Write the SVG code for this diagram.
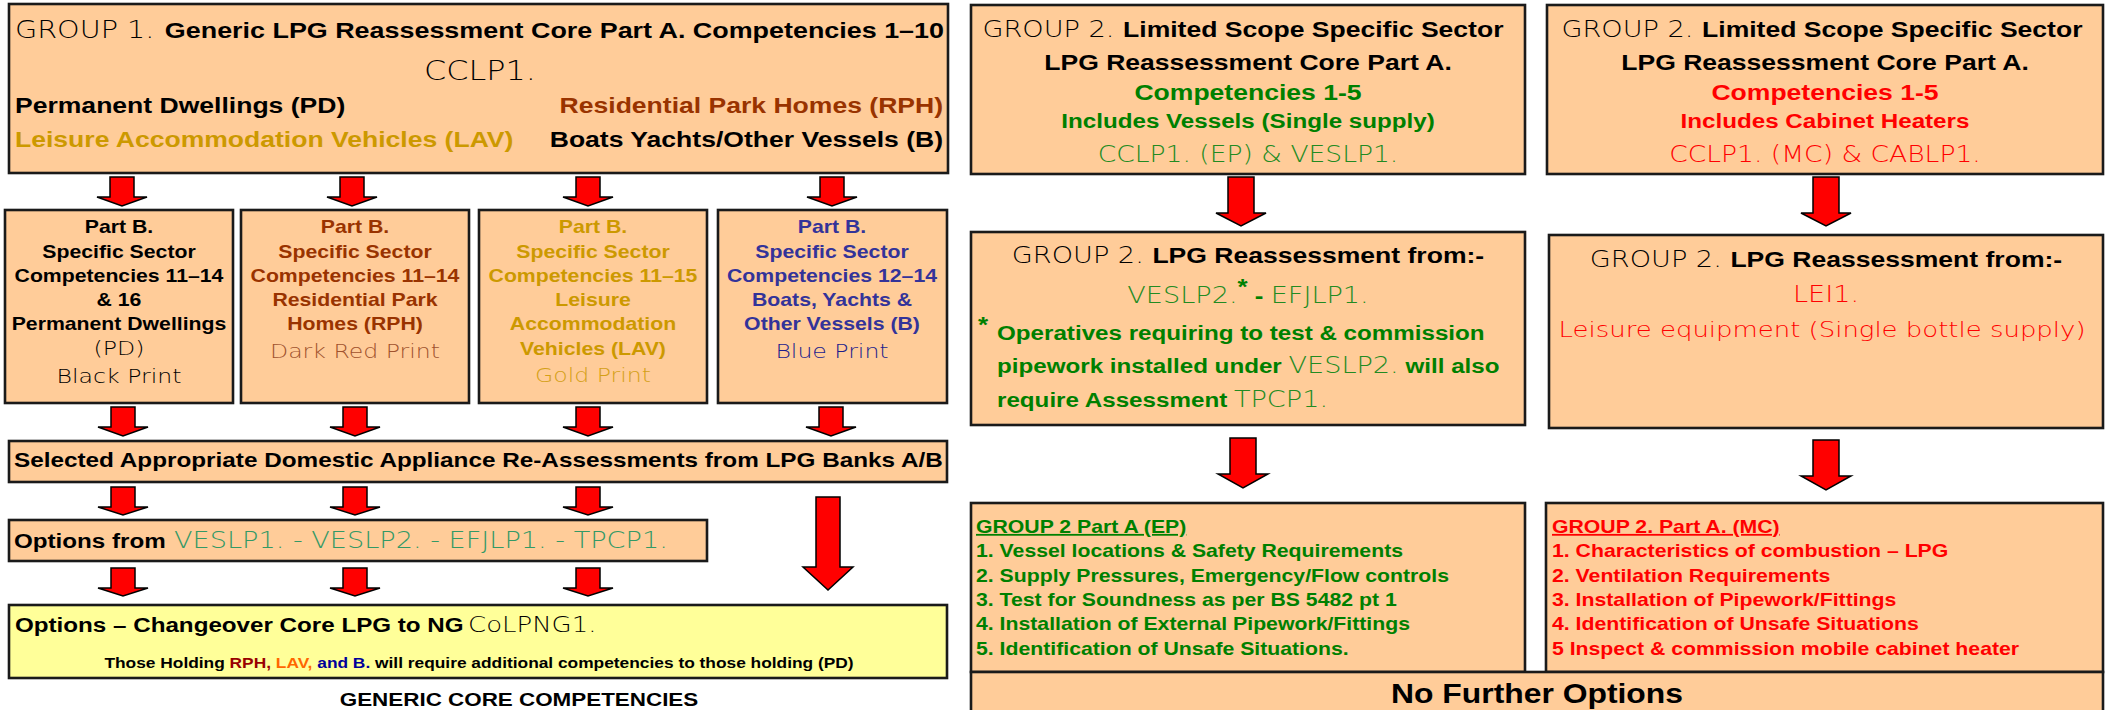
<svg xmlns="http://www.w3.org/2000/svg" width="2105" height="710" viewBox="0 0 2105 710">
<style>
.box{fill:#FFCC99;stroke:#1a1a1a;stroke-width:2.6}
.yel{fill:#FFFF99;stroke:#1a1a1a;stroke-width:2.6}
.b{font-family:"Liberation Sans",Arial,sans-serif;font-weight:700}
.l{font-family:"DejaVu Sans","Liberation Sans",sans-serif;font-weight:200}
.arrow{fill:#FF0000;stroke:#000;stroke-width:1.5;stroke-linejoin:miter}
.m{text-anchor:middle}
.e{text-anchor:end}
.pb{font-size:18px}
.h{font-size:22.5px}
.gr{fill:#008000}
.gr2{fill:#228B22}
.rd{fill:#FF0000}
.br{fill:#993300}
.gd{fill:#CC9900}
.bl{fill:#333399}
</style>
<rect width="2105" height="710" fill="#ffffff"/>

<g id="group1-core">
<rect class="box" x="9" y="4" width="939" height="169"/>
<text transform="matrix(1.18 0 0 1 15 38)"><tspan class="l" font-size="24.3">GROUP 1.</tspan><tspan class="b" font-size="22.8" x="127">Generic LPG Reassessment Core Part A. Competencies 1–10</tspan></text>
<text class="l m" font-size="27" transform="matrix(1.18 0 0 1 480 80)">CCLP1.</text>
<text class="b h" transform="matrix(1.18 0 0 1 15 113)">Permanent Dwellings (PD)</text>
<text class="b h e br" transform="matrix(1.18 0 0 1 943 113)">Residential Park Homes (RPH)</text>
<text class="b h gd" transform="matrix(1.18 0 0 1 15 147)">Leisure Accommodation Vehicles (LAV)</text>
<text class="b h e" transform="matrix(1.18 0 0 1 943 147)">Boats Yachts/Other Vessels (B)</text>
</g>

<g id="partb-pd">
<rect class="box" x="5" y="210" width="228" height="193"/>
<g class="b pb m">
<text transform="matrix(1.18 0 0 1 119 233)">Part B.</text>
<text transform="matrix(1.18 0 0 1 119 257.5)">Specific Sector</text>
<text transform="matrix(1.18 0 0 1 119 281.5)">Competencies 11–14</text>
<text transform="matrix(1.18 0 0 1 119 305.5)">&amp; 16</text>
<text transform="matrix(1.18 0 0 1 119 330)">Permanent Dwellings</text>
</g>
<text class="l m" font-size="20" transform="matrix(1.18 0 0 1 119 355)">(PD)</text>
<text class="l m" font-size="20" transform="matrix(1.18 0 0 1 119 383)">Black Print</text>
</g>

<g id="partb-rph">
<rect class="box" x="241" y="210" width="228" height="193"/>
<g class="b pb m br">
<text transform="matrix(1.18 0 0 1 355 233)">Part B.</text>
<text transform="matrix(1.18 0 0 1 355 257.5)">Specific Sector</text>
<text transform="matrix(1.18 0 0 1 355 281.5)">Competencies 11–14</text>
<text transform="matrix(1.18 0 0 1 355 305.5)">Residential Park</text>
<text transform="matrix(1.18 0 0 1 355 330)">Homes (RPH)</text>
</g>
<text class="l m" font-size="20" fill="#A0522D" transform="matrix(1.18 0 0 1 355 358)">Dark Red Print</text>
</g>

<g id="partb-lav">
<rect class="box" x="479" y="210" width="228" height="193"/>
<g class="b pb m gd">
<text transform="matrix(1.18 0 0 1 593 233)">Part B.</text>
<text transform="matrix(1.18 0 0 1 593 257.5)">Specific Sector</text>
<text transform="matrix(1.18 0 0 1 593 281.5)">Competencies 11–15</text>
<text transform="matrix(1.18 0 0 1 593 305.5)">Leisure</text>
<text transform="matrix(1.18 0 0 1 593 330)">Accommodation</text>
<text transform="matrix(1.18 0 0 1 593 354.5)">Vehicles (LAV)</text>
</g>
<text class="l m" font-size="20" fill="#D4A017" transform="matrix(1.18 0 0 1 593 382)">Gold Print</text>
</g>

<g id="partb-boats">
<rect class="box" x="718" y="210" width="229" height="193"/>
<g class="b pb m bl">
<text transform="matrix(1.18 0 0 1 832 233)">Part B.</text>
<text transform="matrix(1.18 0 0 1 832 257.5)">Specific Sector</text>
<text transform="matrix(1.18 0 0 1 832 281.5)">Competencies 12–14</text>
<text transform="matrix(1.18 0 0 1 832 305.5)">Boats, Yachts &amp;</text>
<text transform="matrix(1.18 0 0 1 832 330)">Other Vessels (B)</text>
</g>
<text class="l m" font-size="20" fill="#1C1C8C" transform="matrix(1.18 0 0 1 832 358)">Blue Print</text>
</g>

<g id="appliance-reassessments">
<rect class="box" x="9" y="441" width="938" height="41"/>
<text class="b" font-size="20.6" transform="matrix(1.18 0 0 1 14 467)">Selected Appropriate Domestic Appliance Re-Assessments from LPG Banks A/B</text>
</g>

<g id="options-from">
<rect class="box" x="9" y="520" width="698" height="41"/>
<text transform="matrix(1.18 0 0 1 14 548)"><tspan class="b" font-size="20.5">Options from </tspan><tspan class="l" font-size="23" fill="#339966" x="135.6">VESLP1. - VESLP2. - EFJLP1. - TPCP1.</tspan></text>
</g>

<g id="changeover-core">
<rect class="yel" x="9" y="605" width="938" height="73"/>
<text transform="matrix(1.18 0 0 1 15 632)"><tspan class="b" font-size="20.5">Options – Changeover Core LPG to NG </tspan><tspan class="l" font-size="22" x="384">CoLPNG1.</tspan></text>
<text class="b m" font-size="14.7" transform="matrix(1.18 0 0 1 479 668)">Those Holding <tspan fill="#990000">RPH,</tspan> <tspan fill="#FF6600">LAV,</tspan> <tspan fill="#000099">and B.</tspan> will require additional competencies to those holding (PD)</text>
</g>

<g id="caption">
<text class="b m" font-size="19" transform="matrix(1.18 0 0 1 519 706)">GENERIC CORE COMPETENCIES</text>
</g>

<g id="group2-ep-core">
<rect class="box" x="971" y="5" width="554" height="169"/>
<text class="m" transform="matrix(1.18 0 0 1 1243 37)"><tspan class="l" font-size="23">GROUP 2. </tspan><tspan class="b h">Limited Scope Specific Sector</tspan></text>
<text class="b h m" transform="matrix(1.18 0 0 1 1248 70)">LPG Reassessment Core Part A.</text>
<text class="b h m gr" transform="matrix(1.18 0 0 1 1248 100)">Competencies 1-5</text>
<text class="b m gr" font-size="20.5" transform="matrix(1.18 0 0 1 1248 128)">Includes Vessels (Single supply)</text>
<text class="l m gr2" font-size="22.5" transform="matrix(1.18 0 0 1 1248 162)">CCLP1. (EP) &amp; VESLP1.</text>
</g>

<g id="group2-mc-core">
<rect class="box" x="1547" y="5" width="556" height="169"/>
<text class="m" transform="matrix(1.18 0 0 1 1822 37)"><tspan class="l" font-size="23">GROUP 2. </tspan><tspan class="b h">Limited Scope Specific Sector</tspan></text>
<text class="b h m" transform="matrix(1.18 0 0 1 1825 70)">LPG Reassessment Core Part A.</text>
<text class="b h m rd" transform="matrix(1.18 0 0 1 1825 100)">Competencies 1-5</text>
<text class="b m rd" font-size="20.5" transform="matrix(1.18 0 0 1 1825 128)">Includes Cabinet Heaters</text>
<text class="l m rd" font-size="22.5" transform="matrix(1.18 0 0 1 1825 162)">CCLP1. (MC) &amp; CABLP1.</text>
</g>

<g id="group2-ep-reassessment">
<rect class="box" x="971" y="232" width="554" height="193"/>
<text class="m" transform="matrix(1.18 0 0 1 1248 263)"><tspan class="l" font-size="23">GROUP 2. </tspan><tspan class="b h">LPG Reassessment from:-</tspan></text>
<text class="m" transform="matrix(1.18 0 0 1 1248 303)"><tspan class="l gr2" font-size="23">VESLP2.</tspan><tspan class="b gr" font-size="22" dy="-9">*</tspan><tspan class="b gr" font-size="22" dy="9"> - </tspan><tspan class="l gr2" font-size="23">EFJLP1.</tspan></text>
<text class="b gr" font-size="22" transform="matrix(1.18 0 0 1 978 332)">*</text>
<text class="b gr" font-size="20.5" transform="matrix(1.18 0 0 1 997 340)">Operatives requiring to test &amp; commission</text>
<text class="b gr" font-size="20.5" transform="matrix(1.18 0 0 1 997 373)">pipework installed under <tspan class="l gr2" font-size="23">VESLP2.</tspan> will also</text>
<text class="b gr" font-size="20.5" transform="matrix(1.18 0 0 1 997 407)">require Assessment <tspan class="l gr2" font-size="23">TPCP1.</tspan></text>
</g>

<g id="group2-mc-reassessment">
<rect class="box" x="1549" y="235" width="554" height="193"/>
<text class="m" transform="matrix(1.18 0 0 1 1826 267)"><tspan class="l" font-size="23">GROUP 2. </tspan><tspan class="b h">LPG Reassessment from:-</tspan></text>
<text class="l m rd" font-size="23" transform="matrix(1.18 0 0 1 1826 302)">LEI1.</text>
<text class="l m rd" font-size="22" transform="matrix(1.18 0 0 1 1822 337)">Leisure equipment (Single bottle supply)</text>
</g>

<g id="group2-ep-parta">
<rect class="box" x="971" y="503" width="554" height="169"/>
<g class="b pb gr">
<text transform="matrix(1.18 0 0 1 976 533)" text-decoration="underline">GROUP 2 Part A (EP)</text>
<text transform="matrix(1.18 0 0 1 976 557)">1. Vessel locations &amp; Safety Requirements</text>
<text transform="matrix(1.18 0 0 1 976 582)">2. Supply Pressures, Emergency/Flow controls</text>
<text transform="matrix(1.18 0 0 1 976 606)">3. Test for Soundness as per BS 5482 pt 1</text>
<text transform="matrix(1.18 0 0 1 976 630)">4. Installation of External Pipework/Fittings</text>
<text transform="matrix(1.18 0 0 1 976 655)">5. Identification of Unsafe Situations.</text>
</g>
</g>

<g id="group2-mc-parta">
<rect class="box" x="1546" y="503" width="557" height="169"/>
<g class="b pb rd">
<text transform="matrix(1.18 0 0 1 1552 533)" text-decoration="underline">GROUP 2. Part A. (MC)</text>
<text transform="matrix(1.18 0 0 1 1552 557)">1. Characteristics of combustion – LPG</text>
<text transform="matrix(1.18 0 0 1 1552 582)">2. Ventilation Requirements</text>
<text transform="matrix(1.18 0 0 1 1552 606)">3. Installation of Pipework/Fittings</text>
<text transform="matrix(1.18 0 0 1 1552 630)">4. Identification of Unsafe Situations</text>
<text transform="matrix(1.18 0 0 1 1552 655)">5 Inspect &amp; commission mobile cabinet heater</text>
</g>
</g>

<g id="no-further-options">
<rect class="box" x="971" y="672" width="1132" height="50"/>
<text class="b m" font-size="27" transform="matrix(1.18 0 0 1 1537 703)">No Further Options</text>
</g>

<g id="connectors">
<path class="arrow" d="M110,177 H134 V197 H147 L122,206 L97,197 H110 Z"/>
<path class="arrow" d="M340,177 H364 V197 H377 L352,206 L327,197 H340 Z"/>
<path class="arrow" d="M576,177 H600 V197 H613 L588,206 L563,197 H576 Z"/>
<path class="arrow" d="M820,177 H844 V197 H857 L832,206 L807,197 H820 Z"/>
<path class="arrow" d="M111,407 H135 V427 H148 L123,436 L98,427 H111 Z"/>
<path class="arrow" d="M343,407 H367 V427 H380 L355,436 L330,427 H343 Z"/>
<path class="arrow" d="M576,407 H600 V427 H613 L588,436 L563,427 H576 Z"/>
<path class="arrow" d="M819,407 H843 V427 H856 L831,436 L806,427 H819 Z"/>
<path class="arrow" d="M111,487 H135 V507 H148 L123,515 L98,507 H111 Z"/>
<path class="arrow" d="M343,487 H367 V507 H380 L355,515 L330,507 H343 Z"/>
<path class="arrow" d="M576,487 H600 V507 H613 L588,515 L563,507 H576 Z"/>
<path class="arrow" d="M816,497 H840 V567 H853 L828,590 L803,567 H816 Z"/>
<path class="arrow" d="M111,568 H135 V588 H148 L123,596 L98,588 H111 Z"/>
<path class="arrow" d="M343,568 H367 V588 H380 L355,596 L330,588 H343 Z"/>
<path class="arrow" d="M576,568 H600 V588 H613 L588,596 L563,588 H576 Z"/>
<path class="arrow" d="M1228,177 H1254 V213 H1266 L1241,226 L1216,213 H1228 Z"/>
<path class="arrow" d="M1813,177 H1839 V213 H1851 L1826,226 L1801,213 H1813 Z"/>
<path class="arrow" d="M1230,438 H1256 V474 H1268 L1243,488 L1218,474 H1230 Z"/>
<path class="arrow" d="M1813,440 H1839 V476 H1851 L1826,490 L1801,476 H1813 Z"/>
</g>
</svg>
